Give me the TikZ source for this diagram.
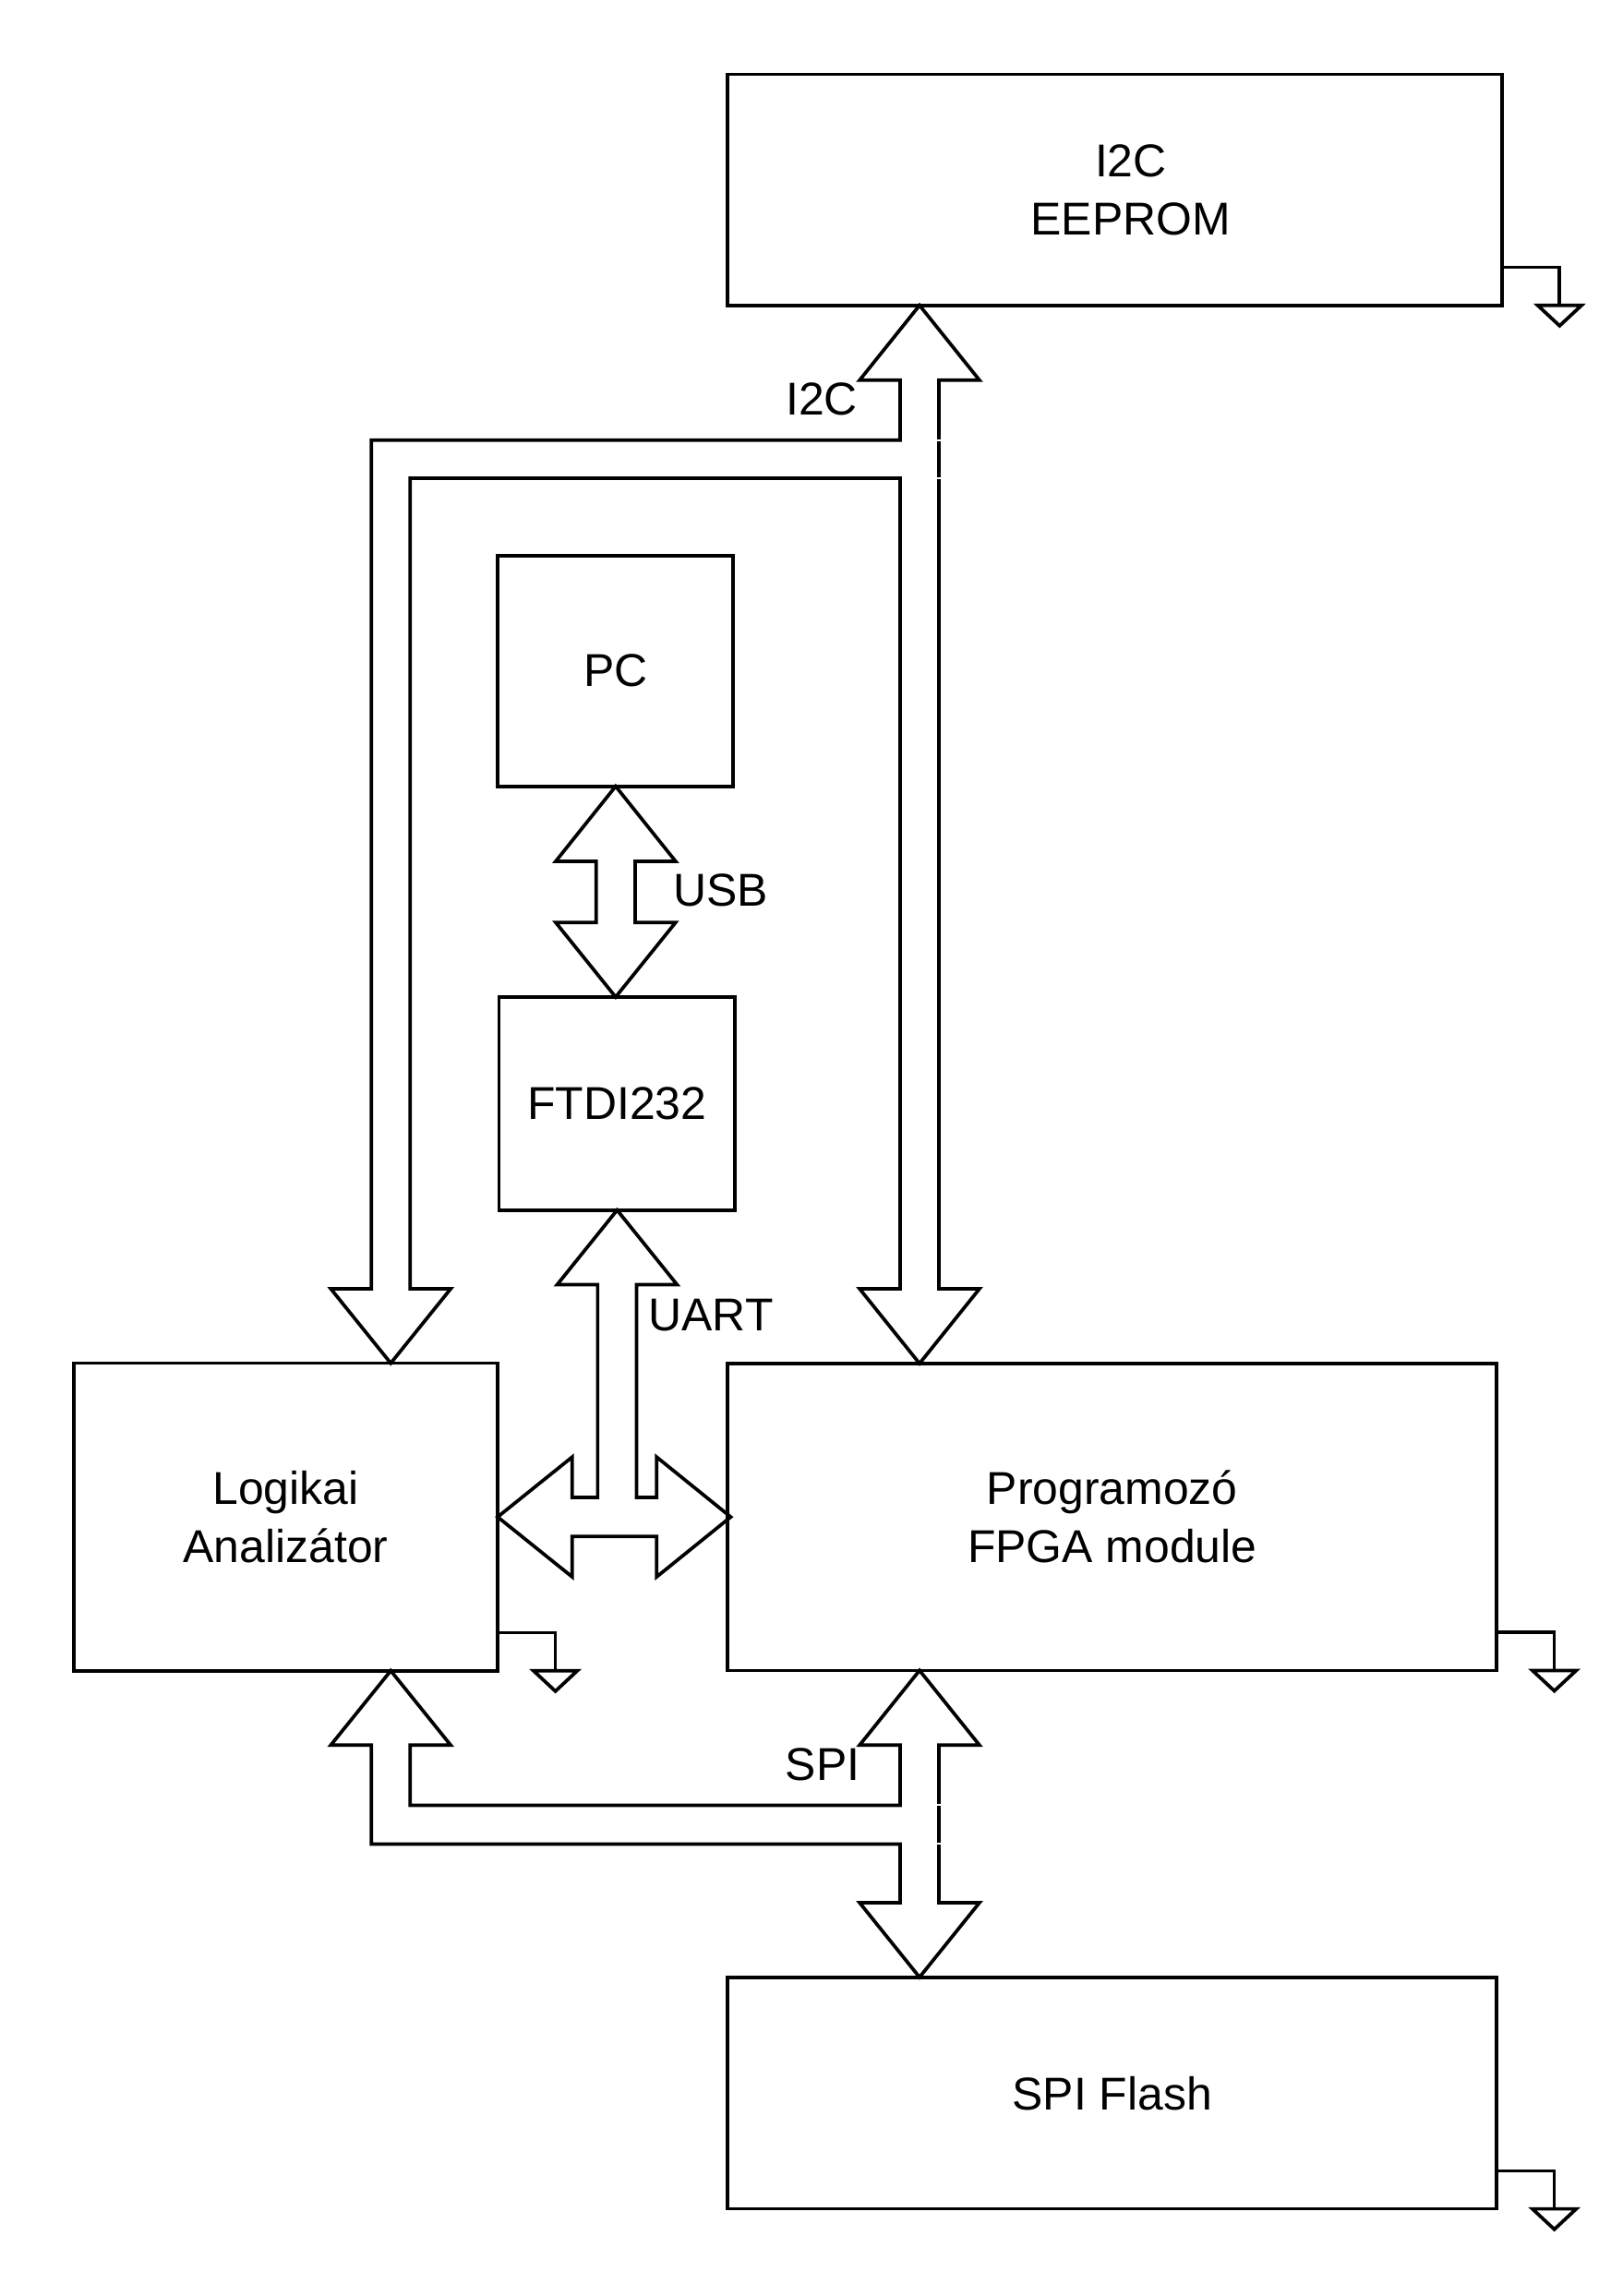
\documentclass[tikz,border=0pt]{standalone}
\usepackage{fontspec}
\setmainfont{Liberation Sans}
\usetikzlibrary{calc}
\begin{document}
\begin{tikzpicture}[x=1pt,y=-1pt,
  box/.style={draw, line width=2.35pt, rectangle, inner sep=0pt, outer sep=0pt, align=center, font=\fontsize{31.5pt}{40pt}\selectfont},
  blk/.style={draw, line width=2.35pt, line join=miter},
  lbl/.style={inner sep=0pt, outer sep=0pt, font=\fontsize{31.5pt}{40pt}\selectfont},
  gline/.style={draw, line width=2.35pt, line join=miter},
  pics/gnd/.style={code={
     \draw[gline] (0,-26) -- (39.5,-26) -- (39.5,0);
     \draw[gline] (24.5,0) -- (54.5,0) -- (39.5,14) -- cycle;}}
]
\useasboundingbox (0,0) rectangle (1109.8,1570.1);

% boxes
\node[box, minimum width=529.5pt, minimum height=157.9pt,
      label={[lbl, align=center, xshift=11pt]center:I2C\\EEPROM}] (eeprom) at (762.25,129.85) {};
\node[box, minimum width=160.8pt, minimum height=157.8pt] (pc) at (420.9,458.8) {PC};
\node[box, minimum width=161.2pt, minimum height=145.7pt] (ftdi) at (421.9,754.65) {FTDI232};
\node[box, minimum width=289.8pt, minimum height=210.3pt] (logic) at (195.4,1037.35) {Logikai\\Analizátor};
\node[box, minimum width=525.7pt, minimum height=209.9pt] (fpga) at (760.55,1037.35) {Programozó\\FPGA module};
\node[box, minimum width=525.7pt, minimum height=158.4pt] (flash) at (760.55,1431.3) {SPI Flash};

% arrow end points on the boxes
\coordinate (i2cx) at (628.8,0);
\coordinate (brx) at (267.2,0);
\coordinate (usbx) at (421,0);
\coordinate (uartx) at (422,0);
\coordinate (i2cT) at (eeprom.south -| i2cx);
\coordinate (i2cB) at (fpga.north -| i2cx);
\coordinate (i2cL) at (logic.north -| brx);
\coordinate (usbT) at (pc.south -| usbx);
\coordinate (usbB) at (ftdi.north -| usbx);
\coordinate (uartT) at (ftdi.south -| uartx);
\coordinate (uartL) at (logic.east);
\coordinate (uartR) at ($(fpga.west)+(2,0)$);
\coordinate (spiT) at (fpga.south -| i2cx);
\coordinate (spiB) at (flash.north -| i2cx);
\coordinate (spiL) at (logic.south -| brx);

% I2C bus (EEPROM <-> FPGA, branch to Logikai)
\draw[blk] (i2cT) -- (669.8,260) -- (642.1,260) -- (642.1,881.3) -- (669.8,881.3) -- (i2cB)
  -- (587.8,881.3) -- (615.5,881.3) -- (615.5,327) -- (280.5,327) -- (280.5,881.3)
  -- (308.2,881.3) -- (i2cL) -- (226.2,881.3) -- (253.9,881.3) -- (253.9,301)
  -- (615.5,301) -- (615.5,260) -- (587.8,260) -- cycle;

% USB
\draw[blk] (usbT) -- (462,589) -- (434.3,589) -- (434.3,630.8) -- (462,630.8) -- (usbB)
  -- (380,630.8) -- (407.7,630.8) -- (407.7,589) -- (380,589) -- cycle;

% UART
\draw[blk] (uartT) -- (463,878.5) -- (435.3,878.5) -- (435.3,1024.05) -- (449,1024.05)
  -- (449,996.35) -- (uartR) -- (449,1078.35) -- (449,1050.65) -- (391.3,1050.65)
  -- (391.3,1078.35) -- (uartL) -- (391.3,996.35) -- (391.3,1024.05) -- (408.7,1024.05)
  -- (408.7,878.5) -- (381,878.5) -- cycle;

% SPI bus (FPGA <-> Flash, branch to Logikai)
\draw[blk] (spiT) -- (669.8,1193.4) -- (642.1,1193.4) -- (642.1,1301.1) -- (669.8,1301.1) -- (spiB)
  -- (587.8,1301.1) -- (615.5,1301.1) -- (615.5,1261) -- (253.9,1261) -- (253.9,1193.4)
  -- (226.2,1193.4) -- (spiL) -- (308.2,1193.4) -- (280.5,1193.4) -- (280.5,1234.5)
  -- (615.5,1234.5) -- (615.5,1193.4) -- (587.8,1193.4) -- cycle;

% small breaks in the right shaft lines
\foreach \yy in {301,327,1234.5,1261}
  \draw[white, line width=1.3pt] (640.4,\yy) -- (643.8,\yy);

% ground symbols
\pic at (eeprom.south east) {gnd};
\pic at (logic.south east) {gnd};
\pic at (fpga.south east) {gnd};
\pic at (flash.south east) {gnd};

% bus labels
\node[lbl, anchor=base east] (li2c) at (586.5,284) {I2C};
\node[lbl, anchor=base west] (lusb) at (460.6,619.8) {USB};
\node[lbl, anchor=base west] (luart) at (443.6,910) {UART};
\node[lbl, anchor=base east] (lspi) at (587.9,1217.4) {SPI};
\end{tikzpicture}
\end{document}
